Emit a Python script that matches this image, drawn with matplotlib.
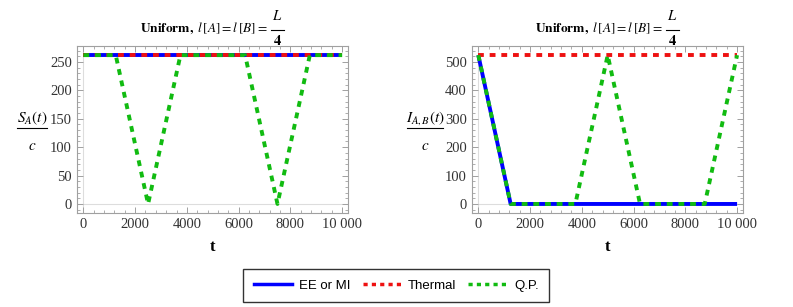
import matplotlib
matplotlib.use("Agg")
from matplotlib import pyplot as plt
from matplotlib.ticker import MultipleLocator, AutoMinorLocator, FuncFormatter
from matplotlib.lines import Line2D

plt.rcParams['mathtext.fontset'] = 'stix'
plt.rcParams['font.family'] = 'Liberation Serif'

# time grid (corner points of the piecewise-linear curves)
t_const = [0, 10000]

# left panel: entanglement entropy S_A(t)/c
s_ee = [262, 262]
s_th = [262, 262]
t_qp_s = [0, 1250, 2500, 3750, 6250, 7500, 8750, 10000]
s_qp = [262, 262, 0, 262, 262, 0, 262, 262]

# right panel: mutual information I_AB(t)/c
t_ee_i = [0, 1250, 10000]
i_ee = [524, 0, 0]
i_th = [524, 524]
t_qp_i = [0, 1250, 3750, 5000, 6250, 8750, 10000]
i_qp = [524, 0, 0, 524, 0, 0, 524]

blue = '#0000ff'
red = '#ee1111'
green = '#11bb11'
frame = '#a0a0a0'
lw = 2.8
dot = (0, (1.5, 1.5))

W, H = 793, 307
fig = plt.figure(figsize=(7.93, 3.07), dpi=100)
ax1 = fig.add_axes([0.097, 0.306, 0.342, 0.544])
ax2 = fig.add_axes([0.595, 0.306, 0.342, 0.544])


def px(x, y):
    return x / W, 1 - y / H


def frac_label(xc, num, den, half, yn=118, yb=128, yd=146, size=11):
    # Mathematica-style stacked fraction: numerator, bar, denominator
    fig.text(*px(xc, yn), num, ha='center', va='center', fontsize=size)
    fig.add_artist(Line2D([(xc - half) / W, (xc + half) / W],
                          [1 - yb / H, 1 - yb / H], color='black', lw=0.8,
                          transform=fig.transFigure))
    fig.text(*px(xc, yd), den, ha='center', va='center', fontsize=size)


def title(x_end):
    fig.text(*px(x_end, 28.5), r"$\mathbf{Uniform,}\ l\,[A]=l\,[B]=$",
             ha='right', va='center', fontsize=9.6)
    frac_label(x_end + 9, r"$L$", r"$\mathbf{4}$", 6.5, yn=16, yb=29.5, yd=41,
               size=10.5)


def style(ax, ymaj, ymin_, ylim):
    ax.set_xlim(-250, 10230)
    ax.set_ylim(*ylim)
    ax.axhline(0, color='#dddddd', lw=0.8, zorder=0)
    ax.axvline(0, color='#dddddd', lw=0.8, zorder=0)
    ax.xaxis.set_major_locator(MultipleLocator(2000))
    ax.xaxis.set_minor_locator(AutoMinorLocator(5))
    ax.yaxis.set_major_locator(MultipleLocator(ymaj))
    ax.yaxis.set_minor_locator(MultipleLocator(ymin_))
    ax.xaxis.set_major_formatter(FuncFormatter(
        lambda v, p: f"{int(v):,}".replace(",", " ") if v >= 10000 else f"{int(v)}"))
    ax.tick_params(which='both', direction='in', top=True, right=True,
                   color=frame, labelcolor='#333333', labelsize=10.5)
    ax.tick_params(which='major', length=4, width=0.7)
    ax.tick_params(which='minor', length=2, width=0.6)
    for s in ax.spines.values():
        s.set_color(frame)
        s.set_linewidth(0.8)
    ax.set_xlabel('t', fontweight='bold', fontsize=12, labelpad=6)


ax1.plot(t_const, s_ee, color=blue, lw=lw, solid_capstyle='butt')
ax1.plot(t_const, s_th, color=red, lw=lw, linestyle=dot)
ax1.plot(t_qp_s, s_qp, color=green, lw=lw, linestyle=dot)
style(ax1, 50, 10, (-16, 278))
frac_label(32, r"$S_A(t)$", r"$c$", 15)
title(268)

ax2.plot(t_ee_i, i_ee, color=blue, lw=lw, solid_capstyle='butt')
ax2.plot(t_const, i_th, color=red, lw=lw, linestyle=dot)
ax2.plot(t_qp_i, i_qp, color=green, lw=lw, linestyle=dot)
style(ax2, 100, 20, (-32, 556))
frac_label(425, r"$I_{A,B}(t)$", r"$c$", 18)
title(663)

handles = [Line2D([], [], color=blue, lw=2.5),
           Line2D([], [], color=red, lw=2.5, linestyle=(0, (1.2, 1.2))),
           Line2D([], [], color=green, lw=2.5, linestyle=(0, (1.2, 1.2)))]
leg = fig.legend(handles, ['EE or MI', 'Thermal', 'Q.P.'], loc='center',
                 bbox_to_anchor=(0.4995, 0.07), ncol=3, frameon=True,
                 fancybox=False, edgecolor='black', handlelength=2.9,
                 handletextpad=0.55, columnspacing=0.9, borderpad=0.8,
                 borderaxespad=0,
                 prop={'family': 'Liberation Sans', 'size': 9.5})
leg.get_frame().set_linewidth(1.0)

fig.savefig('out.png', dpi=100)
